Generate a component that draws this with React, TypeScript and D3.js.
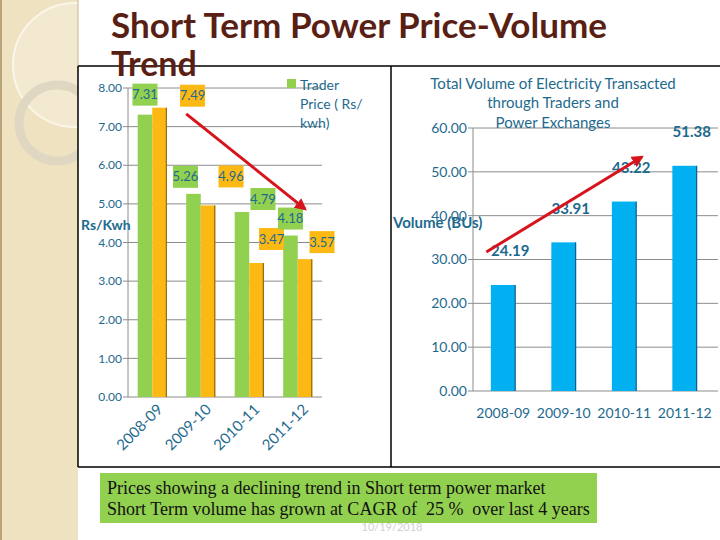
import React from "react";
import * as d3 from "d3";

// ---- data ----
const years = ["2008-09", "2009-10", "2010-11", "2011-12"];
const traderPrice = [7.31, 5.26, 4.79, 4.18];
const exchangePrice = [7.49, 4.96, 3.47, 3.57];
const volume = [24.19, 33.91, 43.22, 51.38];
const priceTicks = [0, 1, 2, 3, 4, 5, 6, 7, 8];
const volumeTicks = [0, 10, 20, 30, 40, 50, 60];

// label nudges (px) relative to bar top centre - labels were dragged by hand in the original
const traderNudge = [[0, -20], [-8, -17], [21, -13], [0, -17]];
const exchangeNudge = [[33, -12], [23, -29], [15, -24], [17, -17]];

// trend arrows, [band units, value]
const priceArrow = [[1.2, 7.33], [3.65, 4.87]];
const volumeArrow = [[0.22, 31.7], [2.79, 53.4]];

const TEAL = "#1e6a8e";
const GREEN = "#92d050";
const ORANGE = "#fdb913";
const BLUE = "#00b0f0";
const GRID = "#8c8c8c";
const FONT = "Lato, 'Open Sans', sans-serif";

export default function App() {
  // left chart scales
  const xP = d3.scaleBand().domain(years).range([128, 322]).paddingInner(0.4).paddingOuter(0.2);
  const xSub = d3.scaleBand().domain(["t", "e"]).range([0, xP.bandwidth()]);
  const yP = d3.scaleLinear().domain([0, 8]).range([397, 88]);
  const uP = d3.scaleLinear().domain([0, 4]).range([128, 322]);

  // right chart scales
  const xV = d3.scaleBand().domain(years).range([473, 715]).paddingInner(0.59).paddingOuter(0.295);
  const yV = d3.scaleLinear().domain([0, 60]).range([391, 128]);
  const uV = d3.scaleLinear().domain([0, 4]).range([473, 715]);

  const fmt = d3.format(".2f");

  return (
    <svg width={720} height={540} style={{ position: "absolute", left: 0, top: 0, background: "#fff" }} fontFamily={FONT}>
      <defs>
        <clipPath id="strip"><rect x={0} y={0} width={78} height={540} /></clipPath>
        <marker id="head" viewBox="0 0 10 10" refX={8} refY={5} markerWidth={4} markerHeight={4} orient="auto">
          <path d="M0,0 L10,5 L0,10 z" fill="#d7141c" />
        </marker>
      </defs>

      {/* beige side strip */}
      <rect x={0} y={0} width={78} height={540} fill="#efe2c1" />
      <g clipPath="url(#strip)">
        <circle cx={75} cy={65} r={62} fill="rgba(255,255,255,0.25)" stroke="#fbf6ea" strokeWidth={2} />
        <circle cx={57} cy={123} r={38} fill="none" stroke="#e0d7c2" strokeWidth={9} />
      </g>
      <line x1={1} x2={1} y1={0} y2={540} stroke="#b9a47a" strokeWidth={2} />
      <line x1={78} x2={78} y1={0} y2={66} stroke="#c8b68f" strokeWidth={1} />

      {/* frame */}
      <g stroke="#000" strokeWidth={1.5} fill="none">
        <line x1={78} x2={720} y1={66} y2={66} />
        <line x1={78} x2={720} y1={467} y2={467} />
        <line x1={78} x2={78} y1={66} y2={467} />
        <line x1={391} x2={391} y1={66} y2={467} />
      </g>

      {/* title */}
      <g fill="#5a1f14" fontWeight={700} fontSize={34}>
        <text x={111} y={38} textLength={496} lengthAdjust="spacingAndGlyphs">Short Term Power Price-Volume</text>
        <text x={111} y={76}>Trend</text>
      </g>

      {/* ---------- left chart: price ---------- */}
      <g>
        {priceTicks.map((t) => (
          <g key={t}>
            <line x1={123} x2={322} y1={yP(t)} y2={yP(t)} stroke={GRID} strokeWidth={t === 0 ? 1.2 : 1} />
            <text x={122} y={yP(t)} dy="0.35em" textAnchor="end" fontSize={12} fill={TEAL}>{fmt(t)}</text>
          </g>
        ))}
        <line x1={128} x2={128} y1={yP(8)} y2={yP(0)} stroke={GRID} />

        {years.map((c, i) => {
          const x0 = xP(c)!;
          const bw = xSub.bandwidth();
          return (
            <g key={c}>
              <rect x={x0 + xSub("t")!} y={yP(traderPrice[i])} width={bw} height={yP(0) - yP(traderPrice[i])} fill={GREEN} />
              <rect x={x0 + xSub("e")!} y={yP(exchangePrice[i])} width={bw} height={yP(0) - yP(exchangePrice[i])} fill={ORANGE} />
              <line x1={x0 + xSub("e")! + bw - 0.5} x2={x0 + xSub("e")! + bw - 0.5} y1={yP(exchangePrice[i])} y2={yP(0)} stroke="#7a5a10" strokeWidth={1} />
              <text
                transform={`translate(${x0 + xP.bandwidth() / 2 + 4},${yP(0) + 6}) rotate(-45)`}
                textAnchor="end" dy="0.7em" fontSize={15} fill={TEAL}
              >{c}</text>
            </g>
          );
        })}

        {/* data labels */}
        {years.map((c, i) => {
          const bw = xSub.bandwidth();
          const items = [
            { v: traderPrice[i], cx: xP(c)! + xSub("t")! + bw / 2, n: traderNudge[i], fill: GREEN },
            { v: exchangePrice[i], cx: xP(c)! + xSub("e")! + bw / 2, n: exchangeNudge[i], fill: ORANGE },
          ];
          return items.map((d, k) => {
            const lx = d.cx + d.n[0];
            const ly = yP(d.v) + d.n[1];
            return (
              <g key={c + k}>
                <rect x={lx - 12.5} y={ly - 11} width={25} height={22} fill={d.fill} />
                <text x={lx} y={ly} dy="0.35em" textAnchor="middle" fontSize={13} fill={TEAL}>{fmt(d.v)}</text>
              </g>
            );
          });
        })}

        {/* legend */}
        <rect x={287} y={79} width={9} height={9} fill={GREEN} />
        <g fontSize={14} fill={TEAL}>
          <text x={300} y={90}>Trader</text>
          <text x={300} y={109}>Price ( Rs/</text>
          <text x={300} y={128}>kwh)</text>
        </g>

        <text x={81} y={230} fontSize={14} fontWeight={700} fill={TEAL}>Rs/Kwh</text>

        <line
          x1={uP(priceArrow[0][0])} y1={yP(priceArrow[0][1])}
          x2={uP(priceArrow[1][0])} y2={yP(priceArrow[1][1])}
          stroke="#d7141c" strokeWidth={3} markerEnd="url(#head)"
        />
      </g>

      {/* ---------- right chart: volume ---------- */}
      <g>
        {volumeTicks.map((t) => (
          <g key={t}>
            <line x1={468} x2={718} y1={yV(t)} y2={yV(t)} stroke={GRID} strokeWidth={t === 0 ? 1.2 : 1} />
            <text x={467} y={yV(t)} dy="0.35em" textAnchor="end" fontSize={14} fill={TEAL}>{fmt(t)}</text>
          </g>
        ))}
        <line x1={473} x2={473} y1={yV(60)} y2={yV(0)} stroke={GRID} />

        <g textAnchor="middle" fontSize={15} fill={TEAL}>
          <text x={553} y={89}>Total Volume of Electricity Transacted</text>
          <text x={553} y={108}>through Traders and</text>
          <text x={553} y={128}>Power Exchanges</text>
        </g>

        {years.map((c, i) => (
          <g key={c}>
            <rect x={xV(c)!} y={yV(volume[i])} width={xV.bandwidth()} height={yV(0) - yV(volume[i])} fill={BLUE} />
            <line x1={xV(c)! + xV.bandwidth() - 0.5} x2={xV(c)! + xV.bandwidth() - 0.5} y1={yV(volume[i])} y2={yV(0)} stroke="#1f4e79" />
            <text x={xV(c)! + xV.bandwidth() / 2 + 7} y={yV(volume[i]) - 34} dy="0.35em" textAnchor="middle" fontSize={15} fontWeight={700} fill={TEAL}>{fmt(volume[i])}</text>
            <text x={xV(c)! + xV.bandwidth() / 2} y={yV(0) + 22} dy="0.35em" textAnchor="middle" fontSize={14} fill={TEAL}>{c}</text>
          </g>
        ))}

        <text x={393} y={228} fontSize={15} fontWeight={700} fill={TEAL}>Volume (BUs)</text>

        <line
          x1={uV(volumeArrow[0][0])} y1={yV(volumeArrow[0][1])}
          x2={uV(volumeArrow[1][0])} y2={yV(volumeArrow[1][1])}
          stroke="#d7141c" strokeWidth={3} markerEnd="url(#head)"
        />
      </g>

      {/* footer note */}
      <text x={392} y={531} textAnchor="middle" fontSize={11} fill="#cfcfcf">10/19/2018</text>
      <rect x={100} y={473} width={497} height={50} fill={GREEN} />
      <g fontFamily="'Liberation Serif', serif" fontSize={18} fill="#111">
        <text x={107} y={494}>Prices showing a declining trend in Short term power market</text>
        <text x={107} y={515}>{"Short Term volume has grown at CAGR of \u00a025 % \u00a0over last 4 years"}</text>
      </g>
    </svg>
  );
}
